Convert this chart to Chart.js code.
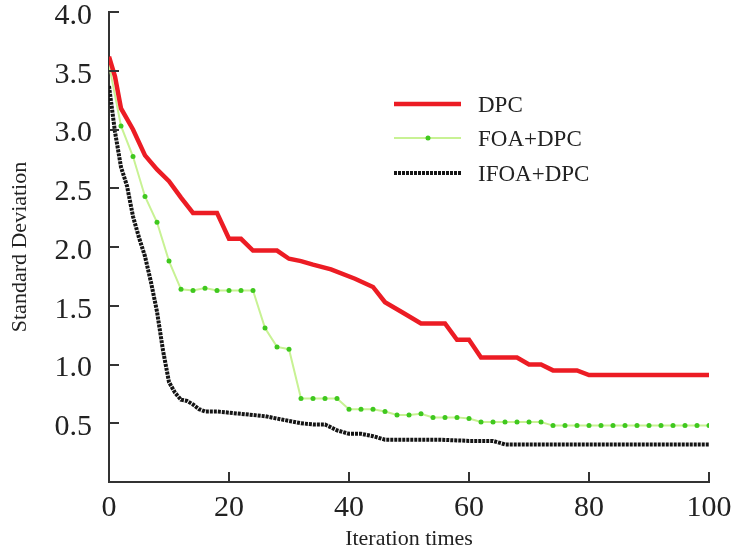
<!DOCTYPE html>
<html>
<head>
<meta charset="utf-8">
<script src="https://cdn.jsdelivr.net/npm/chart.js@4.4.0/dist/chart.umd.min.js"></script>
<style>
  html, body { margin: 0; padding: 0; background: #fff; }
  #wrap { width: 737px; height: 556px; }
</style>
</head>
<body>
<div id="wrap"><canvas id="chart-std" width="737" height="556"></canvas></div>
<script>
// values
var seriesNames = ["DPC", "FOA+DPC", "IFOA+DPC"];

var dpcX = [0, 1, 2, 4, 6, 8, 10, 12, 14, 18, 20, 22, 24, 28, 30, 32, 34, 37, 41, 44, 46, 49, 52, 56, 58, 60, 62, 68, 70, 72, 74, 78, 80, 100];
var dpcY = [3.62, 3.45, 3.18, 3.0, 2.78, 2.66, 2.56, 2.42, 2.29, 2.29, 2.07, 2.07, 1.97, 1.97, 1.90, 1.88, 1.85, 1.81, 1.73, 1.66, 1.53, 1.44, 1.35, 1.35, 1.21, 1.21, 1.06, 1.06, 1.00, 1.00, 0.95, 0.95, 0.91, 0.91];

var foaX = [0, 2, 4, 6, 8, 10, 12, 14, 16, 18, 20, 22, 24, 26, 28, 30, 32, 34, 36, 38, 40, 42, 44, 46, 48, 50, 52, 54, 56, 58, 60, 62, 64, 66, 68, 70, 72, 74, 76, 78, 80, 82, 84, 86, 88, 90, 92, 94, 96, 98, 100];
var foaY = [3.55, 3.03, 2.77, 2.43, 2.21, 1.88, 1.64, 1.63, 1.65, 1.63,
            1.63, 1.63, 1.63, 1.31, 1.15, 1.13, 0.71, 0.71, 0.71, 0.71,
            0.62, 0.62, 0.62, 0.60, 0.57, 0.57, 0.58, 0.55, 0.55, 0.55,
            0.54, 0.51, 0.51, 0.51, 0.51, 0.51, 0.51, 0.48, 0.48, 0.48,
            0.48, 0.48, 0.48, 0.48, 0.48, 0.48, 0.48, 0.48, 0.48, 0.48, 0.48];

var ifoaX = [0, 1, 2, 3, 4, 5, 6, 7, 8, 9, 10, 11, 12, 13, 14, 15, 16, 18, 20, 22, 24, 26, 28, 30, 32, 34, 36, 38, 40, 42, 44, 46, 50, 55, 60, 64, 66, 100];
var ifoaY = [3.37, 2.98, 2.68, 2.52, 2.26, 2.08, 1.92, 1.70, 1.45, 1.12, 0.85, 0.76, 0.70, 0.69, 0.66, 0.62, 0.60,
             0.60, 0.59, 0.58, 0.57, 0.56, 0.54, 0.52, 0.50, 0.49, 0.49, 0.44, 0.41, 0.41, 0.39, 0.36,
             0.36, 0.36, 0.35, 0.35, 0.32, 0.32];

var xTicks = [0, 20, 40, 60, 80, 100];
var yTicks = [0.5, 1.0, 1.5, 2.0, 2.5, 3.0, 3.5, 4.0];

var SERIF = '"Liberation Serif", "Times New Roman", serif';
var AXIS_COLOR = "#333";

function pairs(xs, ys) {
  return xs.map(function (x, i) { return { x: x, y: ys[i] }; });
}

// tick marks point into the plot, so they are drawn here
var innerTicks = {
  id: "innerTicks",
  afterDraw: function (chart) {
    var ctx = chart.ctx, area = chart.chartArea;
    var xs = chart.scales.x, ys = chart.scales.y;
    ctx.save();
    ctx.strokeStyle = AXIS_COLOR;
    ctx.lineWidth = 2;
    ctx.beginPath();
    ys.ticks.forEach(function (t) {
      var py = Math.round(ys.getPixelForValue(t.value));
      ctx.moveTo(area.left, py);
      ctx.lineTo(area.left + 10, py);
    });
    xs.ticks.forEach(function (t) {
      if (t.value === 0) return;
      var px = Math.round(xs.getPixelForValue(t.value));
      ctx.moveTo(px, area.bottom);
      ctx.lineTo(px, area.bottom - 10);
    });
    ctx.stroke();
    ctx.restore();
  }
};

// legend sits inside the plot, upper right
var legendBox = {
  id: "legendBox",
  afterDraw: function (chart) {
    var ctx = chart.ctx;
    var rowY = [104, 138, 173];
    ctx.save();
    chart.data.datasets.forEach(function (ds, i) {
      var y = rowY[i];
      ctx.beginPath();
      ctx.strokeStyle = ds.borderColor;
      ctx.lineWidth = ds.borderWidth;
      ctx.setLineDash(ds.borderDash || []);
      ctx.moveTo(394, y);
      ctx.lineTo(461, y);
      ctx.stroke();
      ctx.setLineDash([]);
      if (i === 1) {
        ctx.beginPath();
        ctx.fillStyle = ds.pointBackgroundColor;
        ctx.arc(428, y, 2.5, 0, Math.PI * 2);
        ctx.fill();
      }
      ctx.fillStyle = "#222";
      ctx.font = "23px " + SERIF;
      ctx.textBaseline = "middle";
      ctx.textAlign = "left";
      ctx.fillText(ds.label, 478, y + 2);
    });
    ctx.restore();
  }
};

var ctx = document.getElementById("chart-std");
new Chart(ctx, {
  type: "line",
  data: {
    datasets: [
      {
        label: seriesNames[0],
        data: pairs(dpcX, dpcY),
        borderColor: "#ec1c24",
        borderWidth: 4.5,
        pointRadius: 0,
        tension: 0,
      },
      {
        label: seriesNames[1],
        data: pairs(foaX, foaY),
        borderColor: "#c8f294",
        borderWidth: 2,
        pointRadius: function (c) { return c.dataIndex === 0 ? 0 : 2.5; },
        pointBackgroundColor: "#3fc81e",
        pointBorderWidth: 0,
        tension: 0,
      },
      {
        label: seriesNames[2],
        data: pairs(ifoaX, ifoaY),
        borderColor: "#151515",
        borderWidth: 4,
        borderDash: [3, 1],
        pointRadius: 0,
        tension: 0,
      },
    ],
  },
  options: {
    responsive: false,
    animation: false,
    devicePixelRatio: 1,
    layout: { padding: { left: 0, right: 28, top: 12, bottom: 0 } },
    plugins: { legend: { display: false }, tooltip: { enabled: false } },
    scales: {
      x: {
        type: "linear",
        min: 0,
        max: 100,
        afterBuildTicks: function (s) { s.ticks = xTicks.map(function (v) { return { value: v }; }); },
        afterFit: function (s) { s.height = 74; s.paddingLeft = 0; s.paddingRight = 0; },
        grid: { display: false },
        border: { display: true, color: AXIS_COLOR, width: 2 },
        ticks: { color: "#222", padding: 0, maxRotation: 0, font: { family: SERIF, size: 30 } },
        title: { display: true, text: "Iteration times", color: "#222", padding: { top: 4, bottom: 4 }, font: { family: SERIF, size: 22 } },
      },
      y: {
        min: 0,
        max: 4,
        afterBuildTicks: function (s) { s.ticks = yTicks.map(function (v) { return { value: v }; }); },
        afterFit: function (s) { s.width = 109; s.paddingTop = 0; s.paddingBottom = 0; },
        grid: { display: false },
        border: { display: true, color: AXIS_COLOR, width: 2 },
        ticks: {
          color: "#222",
          padding: 9,
          labelOffset: 4,
          font: { family: SERIF, size: 30 },
          callback: function (v) { return Number(v).toFixed(1); },
        },
        title: { display: true, text: "Standard Deviation", color: "#222", padding: { top: 7, bottom: 4 }, font: { family: SERIF, size: 22 } },
      },
    },
  },
  plugins: [innerTicks, legendBox],
});
</script>
</body>
</html>
